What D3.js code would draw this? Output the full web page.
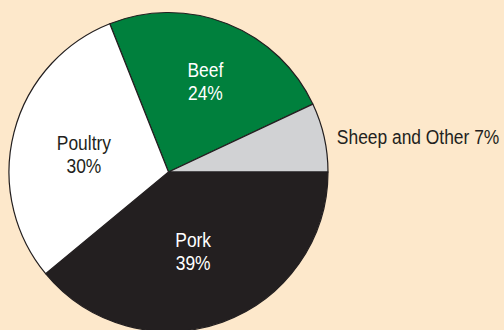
<!DOCTYPE html>
<meta charset="utf-8">
<title>Meat consumption share</title>
<style>
body { margin: 0; background: #fde8cb; }
svg { display: block; }
text {
  font-family: "Liberation Sans Narrow", "Arial Narrow", "Liberation Sans", sans-serif;
  font-size: 20px;
}
</style>
<body>
<svg></svg>
<script src="https://d3js.org/d3.v7.min.js"></script>
<script>

var categories = ["Beef", "Sheep and Other", "Pork", "Poultry"];
var shares = [24, 7, 39, 30];
var fills = ["#00803d", "#d1d2d4", "#231f20", "#ffffff"];
var labelColors = ["#ffffff", "#231f20", "#ffffff", "#231f20"];

var width = 504,
    height = 330,
    cx = 168.5,
    cy = 172,
    radius = 159.5,
    squeeze = 0.87; // fake a condensed face

// small hand nudges from the slice centroid, like the printed original
var nudge = {"Beef": [3, -6.5], "Poultry": [4.5, 4], "Pork": [-6.5, -8.5]};

var svg = d3.select("svg").attr("width", width).attr("height", height);

var data = categories.map((c, i) => ({name: c, value: shares[i], i: i}));

// beef begins a bit left of 12 o'clock so the sheep slice ends at 3 o'clock
var start = -(shares[0] + shares[1]) / 100 * 2 * Math.PI + Math.PI / 2;

var pie = d3.pie()
    .sort(null)
    .value(d => d.value)
    .startAngle(start)
    .endAngle(start + 2 * Math.PI);

var arc = d3.arc().innerRadius(0).outerRadius(radius),
    labelArc = d3.arc().innerRadius(92).outerRadius(92),
    outerArc = d3.arc().innerRadius(172).outerRadius(172);

var g = svg.append("g").attr("transform", "translate(" + cx + "," + cy + ")");
var arcs = pie(data);

g.selectAll("path")
    .data(arcs)
    .enter()
    .append("path")
    .attr("d", arc)
    .attr("fill", d => fills[d.data.i])
    .attr("stroke", "#231f20")
    .attr("stroke-width", 1.2)
    .attr("stroke-linejoin", "round");

// labels inside the big slices
var inside = g.selectAll("text.inside")
    .data(arcs.filter(d => d.data.value > 10))
    .enter()
    .append("text")
    .attr("class", "inside")
    .attr("text-anchor", "middle")
    .attr("fill", d => labelColors[d.data.i])
    .attr("transform", d => {
        var p = labelArc.centroid(d), n = nudge[d.data.name] || [0, 0];
        return "translate(" + (p[0] + n[0]) + "," + (p[1] + n[1]) + ") scale(" + squeeze + ",1)";
    });

inside.append("tspan").attr("x", 0).attr("dy", -3).text(d => d.data.name);
inside.append("tspan").attr("x", 0).attr("dy", 23).text(d => d.data.value + "%");

// small slice gets its label outside
g.selectAll("text.outside")
    .data(arcs.filter(d => d.data.value <= 10))
    .enter()
    .append("text")
    .attr("class", "outside")
    .attr("fill", d => labelColors[d.data.i])
    .attr("transform", d => {
        var p = outerArc.centroid(d);
        return "translate(" + (p[0] + 0.5) + "," + (p[1] + 9.5) + ") scale(" + squeeze + ",1)";
    })
    .text(d => d.data.name + " " + d.data.value + "%");

// source line, cut off by the frame as in the original
svg.append("text")
    .attr("x", 441)
    .attr("y", 341)
    .attr("fill", "#231f20")
    .attr("transform", "translate(441,0) scale(" + squeeze + ",1) translate(-441,0)")
    .style("font-size", "14px")
    .text("Source: USDA");

</script>
</body>
